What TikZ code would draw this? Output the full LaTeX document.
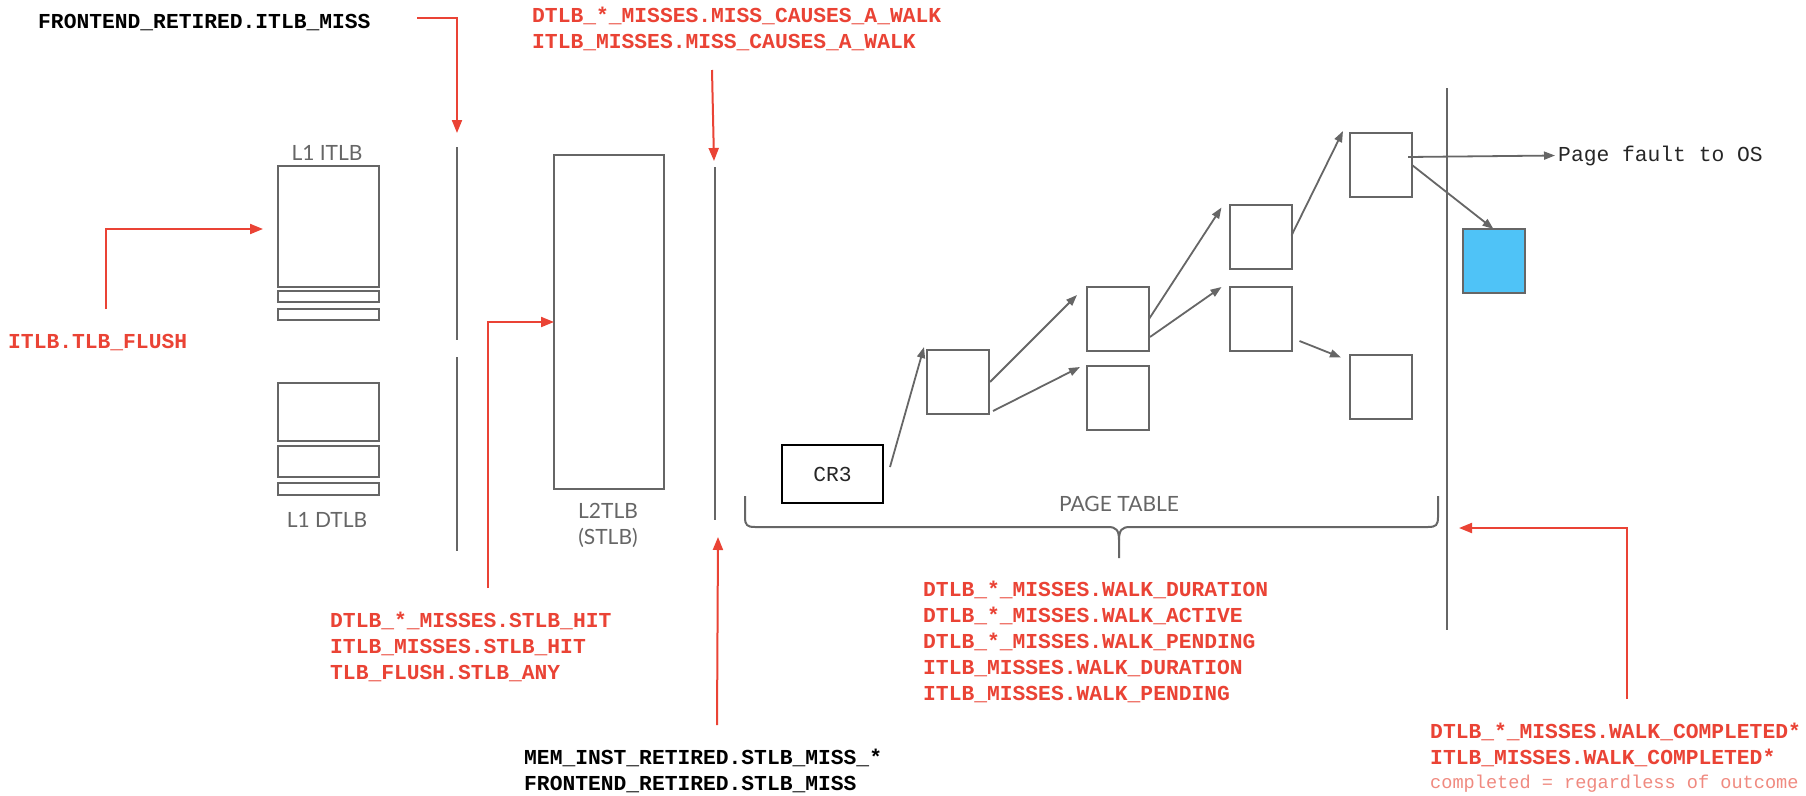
\documentclass[tikz,border=0pt]{standalone}
\usepackage{fontspec}
\setmainfont{Liberation Sans}
\setsansfont{Lato}
\setmonofont{Liberation Mono}
\usetikzlibrary{arrows.meta}
\definecolor{tred}{HTML}{EA4335}
\definecolor{tgray}{HTML}{666666}
\definecolor{tblue}{HTML}{4FC3F7}
\definecolor{tpink}{HTML}{F08A80}
\begin{document}
\begin{tikzpicture}[x=1pt,y=-1pt,
 gbox/.style={draw=tgray,line width=2pt,inner sep=0pt,outer sep=0pt},
 ptbox/.style={gbox,minimum width=62pt,minimum height=64pt},
 lbl/.style={font=\sffamily\fontsize{21}{25}\selectfont,text=tgray,inner sep=0pt,anchor=base},
 evr/.style={font=\ttfamily\bfseries\fontsize{21.3}{26}\selectfont,text=tred,inner sep=0pt,anchor=base west},
 evk/.style={evr,text=black},
 note/.style={font=\ttfamily\fontsize{18.6}{22}\selectfont,text=tpink,inner sep=0pt,anchor=base west},
 mono/.style={font=\ttfamily\fontsize{21.3}{26}\selectfont,text=black!85,inner sep=0pt},
 rarr/.style={draw=tred,line width=2pt,-{Triangle[length=13pt,width=10pt]}},
 garr/.style={draw=tgray,line width=1.8pt,-{Triangle[length=11pt,width=8pt]}},
 divider/.style={draw=tgray,line width=2pt},
]
\useasboundingbox[fill=white] (0,0) rectangle (1806,795);

% L1 ITLB
\node[gbox,minimum width=101pt,minimum height=121pt] (itlb) at (328.5,226.5) {};
\node[gbox,minimum width=101pt,minimum height=11pt] (itlbA) at (328.5,296.5) {};
\node[gbox,minimum width=101pt,minimum height=11pt] (itlbB) at (328.5,314.5) {};
% L1 DTLB
\node[gbox,minimum width=101pt,minimum height=58pt] (dtlbA) at (328.5,412) {};
\node[gbox,minimum width=101pt,minimum height=31pt] (dtlbB) at (328.5,461.5) {};
\node[gbox,minimum width=101pt,minimum height=12pt] (dtlbC) at (328.5,489) {};
% L2
\node[gbox,minimum width=110pt,minimum height=334pt] (l2) at (609,322) {};
% CR3
\node[draw=black,line width=2pt,minimum width=101pt,minimum height=58pt,inner sep=0pt,outer sep=0pt,mono] (cr3) at (832.5,474) {CR3};
% page table boxes
\node[ptbox] (A) at (958,382) {};
\node[ptbox] (B1) at (1118,319) {};
\node[ptbox] (B2) at (1118,398) {};
\node[ptbox] (C1) at (1260.5,236.5) {};
\node[ptbox] (C2) at (1260.5,319) {};
\node[ptbox] (D1) at (1381,165) {};
\node[ptbox] (D2) at (1381,386.5) {};
\node[ptbox,fill=tblue] (blue) at (1493.5,261) {};

% labels
\node[lbl] (l1i) at (327,160) {L1 ITLB};
\node[lbl] (l1d) at (327,527) {L1 DTLB};
\node[lbl] (l2a) at (608,518) {L2TLB};
\node[lbl] (l2b) at (608,544) {(STLB)};
\node[lbl] (ptl) at (1119,511) {PAGE TABLE};

% events
\node[evk] (fe1) at (38,28) {FRONTEND\_RETIRED.ITLB\_MISS};
\node[evr] (flush) at (8,348) {ITLB.TLB\_FLUSH};
\node[evr] (mw1) at (532,23) {DTLB\_*\_MISSES.MISS\_CAUSES\_A\_WALK};
\node[evr] (mw2) at (532,48) {ITLB\_MISSES.MISS\_CAUSES\_A\_WALK};
\node[evr] (sh1) at (330,627) {DTLB\_*\_MISSES.STLB\_HIT};
\node[evr] (sh2) at (330,653) {ITLB\_MISSES.STLB\_HIT};
\node[evr] (sh3) at (330,679) {TLB\_FLUSH.STLB\_ANY};
\node[evk] (sm1) at (524,764) {MEM\_INST\_RETIRED.STLB\_MISS\_*};
\node[evk] (sm2) at (524,790) {FRONTEND\_RETIRED.STLB\_MISS};
\node[evr] (wd1) at (923,596) {DTLB\_*\_MISSES.WALK\_DURATION};
\node[evr] (wd2) at (923,622) {DTLB\_*\_MISSES.WALK\_ACTIVE};
\node[evr] (wd3) at (923,648) {DTLB\_*\_MISSES.WALK\_PENDING};
\node[evr] (wd4) at (923,674) {ITLB\_MISSES.WALK\_DURATION};
\node[evr] (wd5) at (923,700) {ITLB\_MISSES.WALK\_PENDING};
\node[evr] (wc1) at (1430,738) {DTLB\_*\_MISSES.WALK\_COMPLETED*};
\node[evr] (wc2) at (1430,764) {ITLB\_MISSES.WALK\_COMPLETED*};
\node[note] (wc3) at (1430,788) {completed = regardless of outcome};
\node[mono,anchor=base west] (pf) at (1558,161) {Page fault to OS};

% dividers
\coordinate (d1a) at (457,147); \coordinate (d1b) at (457,340);
\coordinate (d1c) at (457,357); \coordinate (d1d) at (457,551);
\coordinate (d2a) at (715,167); \coordinate (d2b) at (715,520);
\coordinate (d3a) at (1447,88); \coordinate (d3b) at (1447,630);
\draw[divider] (d1a) -- (d1b);
\draw[divider] (d1c) -- (d1d);
\draw[divider] (d2a) -- (d2b);
\draw[divider] (d3a) -- (d3b);

% brace
\draw[divider] (745,496) -- (745,517) .. controls (745,525) and (747,527) .. (755,527) -- (1108,527) .. controls (1116,527) and (1119,530) .. (1119,540) -- (1119,558);
\draw[divider] (1438,496) -- (1438,517) .. controls (1438,525) and (1436,527) .. (1428,527) -- (1130,527) .. controls (1122,527) and (1119,530) .. (1119,540);

% page walk arrows
\draw[garr] ([shift={(7,-7)}]cr3.east) -- ([shift={(-3,-3)}]A.north west);
\draw[garr] ([shift={(1,0)}]A.east) -- ([shift={(-10,8)}]B1.north west);
\draw[garr] ([shift={(4,-3)}]A.south east) -- ([shift={(-7,1)}]B2.north west);
\draw[garr] (B1.east) -- ([shift={(-8,3)}]C1.north west);
\draw[garr] ([shift={(1,18)}]B1.east) -- ([shift={(-8,0)}]C2.north west);
\draw[garr] ([shift={(0,-1)}]C1.east) -- ([shift={(-7,-2)}]D1.north west);
\draw[garr] ([shift={(8,22)}]C2.east) -- ([shift={(-9,3)}]D2.north west);
\draw[garr,shorten >=3pt] ([shift={(-4,-8)}]D1.east) -- (pf.west);
\draw[garr] (D1.east) -- (blue.north);

% red event arrows
\coordinate (r1s) at (417,18); \coordinate (r1t) at (457,133);
\draw[rarr] (r1s) -| (r1t);
\coordinate (r2s) at (106,309); \coordinate (r2t) at (263,229);
\draw[rarr] (r2s) |- (r2t);
\coordinate (r3s) at (488,588);
\draw[rarr] (r3s) |- (l2.west);
\coordinate (r4s) at (712,70); \coordinate (r4t) at (714,161);
\draw[rarr] (r4s) -- (r4t);
\coordinate (r5s) at (717,725); \coordinate (r5t) at (718,537);
\draw[rarr] (r5s) -- (r5t);
\coordinate (r6s) at (1627,699); \coordinate (r6t) at (1459,528);
\draw[rarr] (r6s) |- (r6t);
\end{tikzpicture}
\end{document}
